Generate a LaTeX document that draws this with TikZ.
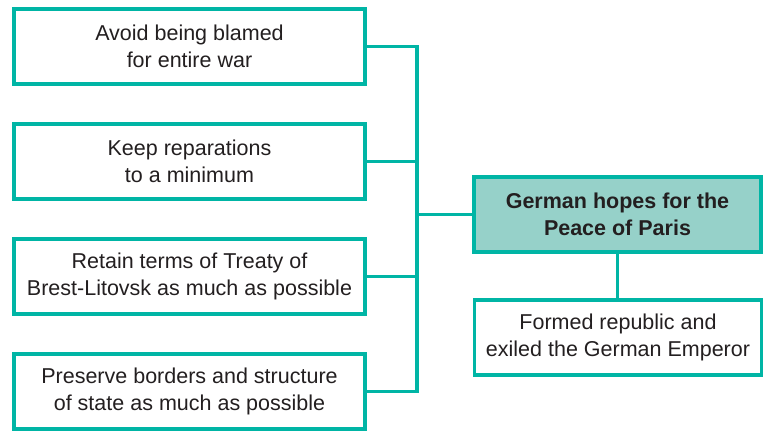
\documentclass[tikz,border=0pt]{standalone}
\usepackage{fontspec}
\setmainfont{Liberation Sans}
\definecolor{teal1}{RGB}{0,181,165}
\definecolor{tealfill}{RGB}{150,209,201}
\definecolor{txt}{RGB}{35,31,32}
\begin{document}
\begin{tikzpicture}[x=1pt,y=-1pt,
  box/.style={draw=teal1, line width=3.6pt, fill=white, rectangle, align=center,
    text=txt, inner sep=0pt, font=\fontsize{21.5}{27.5}\selectfont},
  leftbox/.style={box, minimum width=351pt, minimum height=75pt},
  rightbox/.style={box, minimum width=287pt, minimum height=75pt},
  conn/.style={draw=teal1, line width=3.4pt}]
\useasboundingbox (0,0) rectangle (764,433);
\node[leftbox] (b1) at (189.5,46.5) {Avoid being blamed\\ for entire war};
\node[leftbox] (b2) at (189.5,161.5) {Keep reparations\\ to a minimum};
\node[leftbox] (b3) at (189.5,276.5) {Retain terms of Treaty of\\Brest-Litovsk as much as possible};
\node[leftbox] (b4) at (189.5,391.5) {Preserve borders and structure\\ of state as much as possible};
\node[rightbox, fill=tealfill, font=\fontsize{21.5}{27.5}\selectfont\bfseries] (c) at (617.5,214.5) {German hopes for the\\Peace of Paris};
\node[rightbox] (d) at (618,337.5) {Formed republic and\\exiled the German Emperor};
\coordinate (j) at (417,214.5);
\draw[conn] (b1.east) -| (j);
\draw[conn] (b4.east) -| (j);
\draw[conn] (b2.east) -| (j);
\draw[conn] (b3.east) -| (j);
\draw[conn] (j) -- (c.west);
\draw[conn] (c.south) -- (c.south |- d.north);
\end{tikzpicture}
\end{document}
